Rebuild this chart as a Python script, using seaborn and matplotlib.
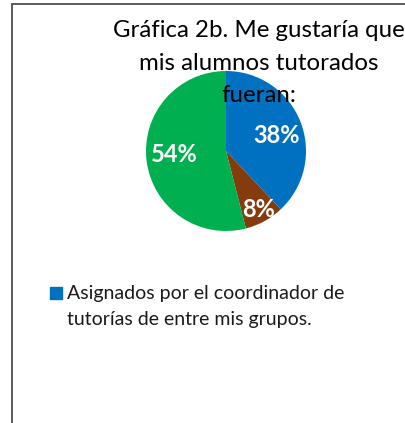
import seaborn as sns
import matplotlib.pyplot as plt
from matplotlib.patches import Rectangle

# datos de la grafica
categorias = ["Asignados por el coordinador de\ntutorías de entre mis grupos.", "Otro", "Otro2"]
porcentajes = [38, 8, 54]
colores = ["#0070C0", "#843C0C", "#00B050"]
titulo = "Gráfica 2b. Me gustaría que\nmis alumnos tutorados\nfueran:"

sns.set_theme(style="white")
plt.rcParams['font.family'] = ['Lato', 'DejaVu Sans']

fig = plt.figure(figsize=(4.06, 4.23), dpi=100)
W, H = 406, 423

# marco del grafico
fig.patches.append(Rectangle((12 / W, -0.1), 1.0, (423 - 4) / H + 0.1, transform=fig.transFigure,
                             fill=False, edgecolor="#4d4d4d", linewidth=1.3))

ax = fig.add_axes([146 / W, (H - 231) / H, 160 / W, 160 / H])
wedges, texts, autotexts = ax.pie(porcentajes, colors=colores, startangle=90, counterclock=False,
                                  autopct="%1.0f%%", pctdistance=0.68,
                                  wedgeprops=dict(linewidth=0),
                                  textprops=dict(color="white", fontsize=17, fontweight="bold"))
# posiciones de etiquetas como en el original
for t, pos in zip(autotexts, [(0.63, 0.19), (0.41, -0.73), (-0.65, -0.04)]):
    t.set_position(pos)
ax.set_xlim(-1, 1)
ax.set_ylim(-1, 1)
ax.set_aspect("equal")

fig.text(259 / W, 1 - 20 / H, titulo, ha="center", va="top", fontsize=17.3,
         linespacing=1.68, color="black")

# leyenda (solo la primera entrada es visible)
fig.patches.append(Rectangle((50 / W, 1 - 299 / H), 12 / W, 12 / H, transform=fig.transFigure,
                             color=colores[0]))
fig.text(67 / W, 1 - 285 / H, categorias[0], ha="left", va="top", fontsize=14,
         linespacing=1.62, color="#1a1a1a")

fig.savefig("out.png", dpi=100)
